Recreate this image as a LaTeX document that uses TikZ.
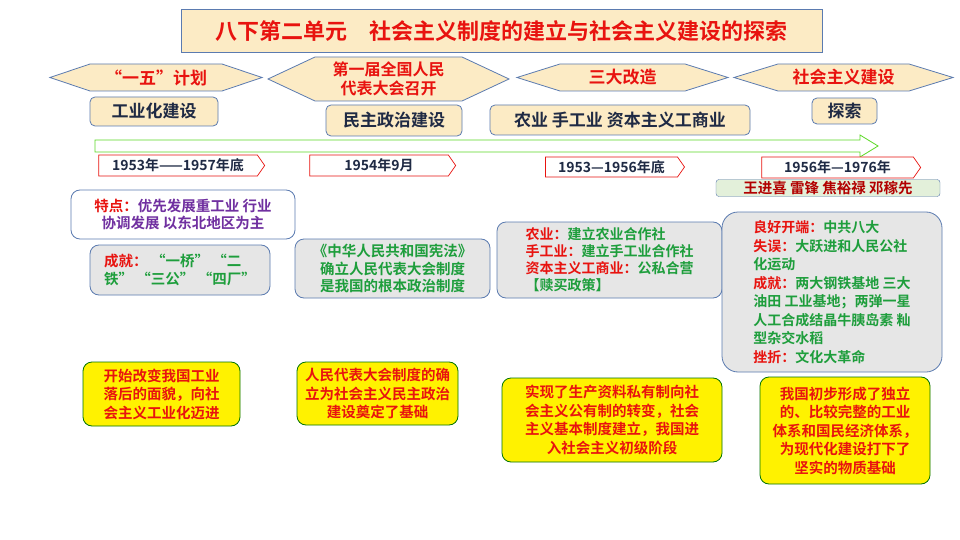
\documentclass[tikz,border=0pt]{standalone}
\usepackage{fontspec}
\setmainfont{Noto Sans CJK SC}[BoldFont={Noto Sans CJK SC Bold}]
\usetikzlibrary{shapes.symbols}
\definecolor{bluebd}{HTML}{5B7BB0}
\definecolor{cream}{HTML}{FCEBC5}
\definecolor{grayf}{HTML}{E6E6E6}
\definecolor{greent}{HTML}{1E9E3C}
\definecolor{redt}{HTML}{E8130F}
\definecolor{navy}{HTML}{1F2A44}
\definecolor{purp}{HTML}{7030A0}
\definecolor{ltgreen}{HTML}{E3F0DA}
\begin{document}
\begin{tikzpicture}[x=1pt,y=-1pt,font=\bfseries,
  hexa/.style={draw=bluebd,fill=cream,line width=0.8pt},
  tbox/.style={draw=bluebd,fill=cream,rounded corners=5pt,line width=0.8pt,font=\bfseries\fontsize{17}{20}\selectfont,text=navy},
  gbox/.style={draw=bluebd,fill=grayf,rounded corners=9pt,line width=0.8pt,align=left,font=\bfseries\fontsize{14.5}{17.5}\selectfont,inner sep=3pt},
  ybox/.style={draw=black!55!green,fill=yellow,rounded corners=9pt,line width=0.8pt,align=center,text=redt,font=\bfseries\fontsize{14.5}{18.5}\selectfont},
  datebox/.style={draw=redt,fill=white,line width=0.7pt,text=navy,font=\bfseries\fontsize{14}{16}\selectfont},
  htext/.style={text=redt,font=\bfseries\fontsize{17}{19}\selectfont,align=center}]
\useasboundingbox (0,0) rectangle (960,540);
\fill[white] (0,0) rectangle (960,540);
% title
\node[draw=bluebd,fill=cream,line width=1pt,minimum width=641,minimum height=43,text=redt,font=\bfseries\fontsize{22}{26}\selectfont] (title) at (501.5,31.5) {八下第二单元\quad 社会主义制度的建立与社会主义建设的探索};
% hexagons
\draw[hexa] (50,77.5) -- (90,64) -- (222,64) -- (262,77.5) -- (222,91) -- (90,91) -- cycle;
\node[htext] (h1) at (156,77.5) {“一五”计划};
\draw[hexa] (268,79) -- (315,57) -- (462,57) -- (509,79) -- (462,101) -- (315,101) -- cycle;
\node[htext,font=\bfseries\fontsize{16}{19}\selectfont] (h2) at (388.5,79) {第一届全国人民\\代表大会召开};
\draw[hexa] (517,77.5) -- (560,64) -- (685,64) -- (728,77.5) -- (685,91) -- (560,91) -- cycle;
\node[htext] (h3) at (622.5,77.5) {三大改造};
\draw[hexa] (734,77.5) -- (778,64) -- (909,64) -- (953,77.5) -- (909,91) -- (778,91) -- cycle;
\node[htext] (h4) at (843.5,77.5) {社会主义建设};
% boxes
\node[tbox,minimum width=128,minimum height=29] (b1) at (154,111.5) {工业化建设};
\node[tbox,minimum width=136,minimum height=31] (b2) at (394,120.5) {民主政治建设};
\node[tbox,minimum width=260,minimum height=30] (b3) at (620,120) {农业\ 手工业\ 资本主义工商业};
\node[tbox,minimum width=65,minimum height=26] (b4) at (844.5,111) {探索};
% green arrow
\draw[draw=green!60!lime!70!gray,line width=0.8pt,fill=white] (95,140) -- (860,140) -- (860,135) -- (878,146) -- (860,157) -- (860,152) -- (95,152) -- cycle;
% date arrows
\node[datebox,signal,signal to=east,signal pointer angle=110,minimum width=166,minimum height=21] (d1) at (178,165.5) {1953年——1957年底};
\node[datebox,signal,signal to=east,signal pointer angle=110,minimum width=146,minimum height=21] (d2) at (379,165.5) {1954年9月};
\node[datebox,signal,signal to=east,signal pointer angle=110,minimum width=139,minimum height=20] (d3) at (611.5,167) {1953—1956年底};
\node[datebox,signal,signal to=east,signal pointer angle=110,minimum width=159,minimum height=21] (d4) at (837.5,167.5) {1956年—1976年};
% workers
\node[draw=bluebd,fill=ltgreen,rounded corners=3pt,minimum width=224,minimum height=17,inner sep=1pt,text=red!70!black,font=\bfseries\fontsize{14.5}{16}\selectfont] (w) at (828,188) {王进喜\ 雷锋\ 焦裕禄\ 邓稼先};
% gray boxes
\node[gbox,fill=white,minimum width=224,minimum height=49,text=purp,align=center] (t) at (183,214.5) {\textcolor{redt}{特点：}优先发展重工业\ 行业\\协调发展\ 以东北地区为主};
\node[gbox,minimum width=180,minimum height=50,text=greent] (c) at (180,270) {\textcolor{redt}{成就：}\ “一桥”\ “二\\铁”\ “三公”\ “四厂”};
\node[gbox,minimum width=195,minimum height=59,text=greent,align=center] (x) at (392.5,268.5) {《中华人民共和国宪法》\\确立人民代表大会制度\\是我国的根本政治制度};
\node[gbox,minimum width=225,minimum height=76,text=greent,font=\bfseries\fontsize{14}{17}\selectfont] (n) at (609.5,260) {\textcolor{redt}{农业：}建立农业合作社\\\textcolor{redt}{手工业：}建立手工业合作社\\\textcolor{redt}{资本主义工商业：}公私合营\\【赎买政策】};
\node[gbox,rounded corners=16pt,minimum width=220,minimum height=160,text=greent,font=\bfseries\fontsize{14}{18.5}\selectfont] (l) at (832,292) {\textcolor{redt}{良好开端：}中共八大\\\textcolor{redt}{失误：}大跃进和人民公社\\化运动\\\textcolor{redt}{成就：}两大钢铁基地\ 三大\\油田\ 工业基地；两弹一星\\人工合成结晶牛胰岛素\ 籼\\型杂交水稻\\\textcolor{redt}{挫折：}文化大革命};
% yellow boxes
\node[ybox,minimum width=157,minimum height=64] (y1) at (161.5,394) {开始改变我国工业\\落后的面貌，向社\\会主义工业化迈进};
\node[ybox,minimum width=161,minimum height=63,inner sep=2pt] (y2) at (377.5,393.5) {人民代表大会制度的确\\立为社会主义民主政治\\建设奠定了基础};
\node[ybox,minimum width=220,minimum height=84] (y3) at (612,420) {实现了生产资料私有制向社\\会主义公有制的转变，社会\\主义基本制度建立，我国进\\入社会主义初级阶段};
\node[ybox,minimum width=170,minimum height=107] (y4) at (845,430.5) {我国初步形成了独立\\的、比较完整的工业\\体系和国民经济体系，\\为现代化建设打下了\\坚实的物质基础};
\end{tikzpicture}
\end{document}
